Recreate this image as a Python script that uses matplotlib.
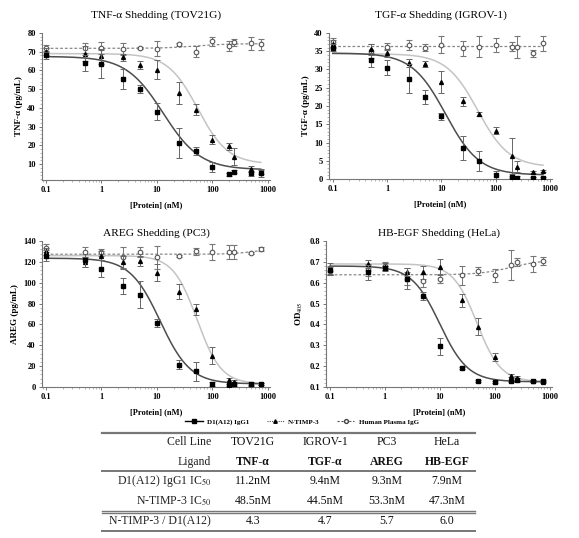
import numpy as np
import matplotlib
matplotlib.use("Agg")
import matplotlib.pyplot as plt
from matplotlib.lines import Line2D
from matplotlib.ticker import AutoMinorLocator, FixedLocator, FuncFormatter, LogLocator, NullFormatter

plt.rcParams['font.family'] = ['Liberation Serif', 'DejaVu Serif']
plt.rcParams['mathtext.fontset'] = 'stix'

# ---------------- data ----------------
conc = [0.1, 0.5, 1, 2.5, 5, 10, 25, 50, 100, 200, 250, 500, 750]

titles = ["TNF-α Shedding (TOV21G)", "TGF-α Shedding (IGROV-1)",
          "AREG Shedding (PC3)", "HB-EGF Shedding (HeLa)"]
ylabels = ["TNF-α (pg/mL)", "TGF-α (pg/mL)", "AREG (pg/mL)", "OD$_{405}$"]

# D1(A12) IgG1 (filled squares)
d1_tnf = [68, 64, 63.5, 55.5, 50, 38, 21.5, 17, 8.5, 4.5, 6, 5, 5]
d1_tnf_err = [2, 4.5, 7.5, 5.5, 2, 4.5, 8, 2, 2.5, 1, 1, 1.5, 2]
d1_tgf = [36, 32.6, 30.5, 27.5, 22.5, 17.2, 8.4, 5, 1.1, 0.5, 0.4, 0.3, 0.2]
d1_tgf_err = [1, 2, 2, 4, 2, 1, 3.3, 2.7, 1.2, 0.3, 0.3, 0.3, 0.3]
d1_areg = [126, 121.5, 113.5, 97, 88.5, 61.5, 21.5, 15, 3, 2, 2.5, 2.5, 2.5]
d1_areg_err = [5, 6, 8, 8, 13, 4, 4, 9, 2, 1, 2, 2, 1]
d1_hb = [0.66, 0.65, 0.67, 0.62, 0.535, 0.295, 0.19, 0.13, 0.125, 0.13, 0.135, 0.13, 0.128]
d1_hb_err = [0.02, 0.035, 0.01, 0.05, 0.02, 0.04, 0.005, 0.005, 0.005, 0.005, 0.01, 0.005, 0.005]

# N-TIMP-3 (filled triangles)
nt_tnf = [70, 69, 67.5, 67, 63, 60.5, 48, 39, 23, 19.5, 14, 7.5, 6]
nt_tnf_err = [2, 4, 4, 2, 2, 5, 6, 3, 2.5, 2, 4.5, 1.5, 1.5]
nt_tgf = [37, 35.5, 34.5, 31.8, 31.5, 26.5, 21.3, 17.8, 13.2, 6.3, 3.4, 2, 2.1]
nt_tgf_err = [1, 1.5, 1, 1, 0.8, 3, 1.2, 0.6, 1, 5, 1.5, 0.3, 0.3]
nt_areg = [130, 120, 126, 119.5, 121, 109.5, 91.5, 74.5, 30, 7, 5, 3, 3]
nt_areg_err = [3, 5, 4, 6, 5, 8, 7, 5, 8, 2, 2, 1, 1]
nt_hb = [0.665, 0.69, 0.675, 0.65, 0.65, 0.675, 0.515, 0.39, 0.245, 0.155, 0.145, 0.13, 0.125]
nt_hb_err = [0.03, 0.02, 0.02, 0.02, 0.03, 0.04, 0.03, 0.04, 0.02, 0.005, 0.01, 0.005, 0.005]

# Human plasma IgG (open circles)
ig_tnf = [72, 72, 72, 71.5, 72, 71.5, 74, 70, 75.5, 73, 75, 74.5, 74]
ig_tnf_err = [1.5, 2.5, 3, 3, 0.5, 4, 0.8, 3, 2.5, 2.5, 2, 3.5, 3]
ig_tgf = [37.4, 35.1, 36.3, 36.7, 36, 36.8, 35.8, 36.3, 36.7, 36.3, 36.2, 34.4, 37.2]
ig_tgf_err = [1.2, 2, 1, 1.3, 1, 2.3, 2, 3, 2, 1.3, 3, 1, 2]
ig_areg = [133, 129.5, 129, 124.5, 129.5, 124.5, 126, 130, 129.5, 129.5, 129.5, 128.5, 132.5]
ig_areg_err = [4, 5, 3, 10, 5, 11, 1, 3, 8, 7, 7, 1, 2]
ig_hb = [0.655, 0.66, 0.68, 0.62, 0.61, 0.62, 0.635, 0.655, 0.635, 0.685, 0.70, 0.69, 0.705]
ig_hb_err = [0.02, 0.03, 0.02, 0.03, 0.03, 0.02, 0.045, 0.02, 0.03, 0.07, 0.02, 0.04, 0.02]

# fitted 4-parameter logistic curves: [start, end, midpoint, hill]
fit_d1 = [[67.5, 7, 13, 1.3], [34.5, 1.1, 12, 1.4], [123.5, 3, 11.5, 1.6], [0.68, 0.125, 10, 1.7]]
fit_nt = [[69, 10, 55, 1.6], [34.3, 3.3, 47, 1.5], [126, 3, 53.3, 2.0], [0.69, 0.125, 47.3, 2.0]]
fit_ig = [[71.8, 74.3, 50, 1.5], [36.4, 36.4, 50, 1.0], [127.3, 133, 600, 2.0], [0.638, 0.71, 200, 1.5]]

ylims = [(1.5, 80), (0, 40), (0, 140), (0.1, 0.8)]
yticks = [[10, 20, 30, 40, 50, 60, 70, 80], [0, 5, 10, 15, 20, 25, 30, 35, 40],
          [0, 20, 40, 60, 80, 100, 120, 140], [0.1, 0.2, 0.3, 0.4, 0.5, 0.6, 0.7, 0.8]]
xticks = [0.1, 1, 10, 100, 1000]

d1_all = [(d1_tnf, d1_tnf_err), (d1_tgf, d1_tgf_err), (d1_areg, d1_areg_err), (d1_hb, d1_hb_err)]
nt_all = [(nt_tnf, nt_tnf_err), (nt_tgf, nt_tgf_err), (nt_areg, nt_areg_err), (nt_hb, nt_hb_err)]
ig_all = [(ig_tnf, ig_tnf_err), (ig_tgf, ig_tgf_err), (ig_areg, ig_areg_err), (ig_hb, ig_hb_err)]

# table
tbl_cols = ["TOV21G", "IGROV-1", "PC3", "HeLa"]
tbl_ligands = ["TNF-α", "TGF-α", "AREG", "HB-EGF"]
ic50_d1 = ["11.2nM", "9.4nM", "9.3nM", "7.9nM"]
ic50_nt = ["48.5nM", "44.5nM", "53.3nM", "47.3nM"]
ratio = ["4.3", "4.7", "5.7", "6.0"]
row_labels = ["Cell Line", "Ligand", "D1(A12) IgG1 IC$_{50}$", "N-TIMP-3 IC$_{50}$", "N-TIMP-3 / D1(A12)"]


def logistic(x, p):
    a, b, c, h = p
    return b + (a - b) / (1 + (x / c) ** h)


W, H = 579, 538
fig = plt.figure(figsize=(W / 100, H / 100), dpi=100)


def px_axes(l, t, r, b):
    return fig.add_axes([l / W, 1 - b / H, (r - l) / W, (b - t) / H])


boxes = [(42, 33, 270, 180), (329, 33, 552, 179), (42, 241, 270, 387), (326, 241, 552, 387)]
title_pads = [11, 11, 4, 4]
xs = np.logspace(-1, np.log10(750), 300)
fmt_x = FuncFormatter(lambda v, p: ("%g" % v))

for i, box in enumerate(boxes):
    ax = px_axes(*box)
    ax.set_xscale('log')
    ax.set_xlim(0.085, 1100)
    ax.set_ylim(*ylims[i])
    # fits
    ax.plot(xs, logistic(xs, fit_ig[i]), ls=(0, (2.2, 1.6)), color='#888888', lw=0.9, zorder=1)
    ax.plot(xs, logistic(xs, fit_nt[i]), color='#c4c4c4', lw=1.1, zorder=1)
    ax.plot(xs, logistic(xs, fit_d1[i]), color='#4d4d4d', lw=1.1, zorder=1)
    # data
    y, e = ig_all[i]
    ax.errorbar(conc, y, yerr=e, fmt='o', ms=3.3, mfc='white', mec='#555555', mew=0.8,
                ecolor='#777777', elinewidth=0.7, capsize=2, capthick=0.7, zorder=3)
    y, e = nt_all[i]
    ax.errorbar(conc, y, yerr=e, fmt='^', ms=2.8, mfc='black', mec='black',
                ecolor='#666666', elinewidth=0.7, capsize=2, capthick=0.7, zorder=4)
    y, e = d1_all[i]
    ax.errorbar(conc, y, yerr=e, fmt='s', ms=3.2, mfc='black', mec='black',
                ecolor='#666666', elinewidth=0.7, capsize=2, capthick=0.7, zorder=5)

    ax.set_title(titles[i], fontsize=8.2, pad=title_pads[i])
    ax.set_ylabel(ylabels[i], fontsize=6.5, fontweight='bold', labelpad=3)
    ax.set_xlabel("[Protein] (nM)", fontsize=6, fontweight='bold', labelpad=5)
    ax.xaxis.set_major_locator(FixedLocator(xticks))
    ax.xaxis.set_major_formatter(fmt_x)
    ax.xaxis.set_minor_locator(LogLocator(base=10, subs=np.arange(2, 10)))
    ax.xaxis.set_minor_formatter(NullFormatter())
    ax.yaxis.set_major_locator(FixedLocator(yticks[i]))
    ax.yaxis.set_minor_locator(AutoMinorLocator(5))
    for lab in ax.get_xticklabels() + ax.get_yticklabels():
        lab.set_fontweight('bold')
        lab.set_fontsize(6)
    ax.spines['top'].set_visible(False)
    ax.spines['right'].set_visible(False)
    for s in ('left', 'bottom'):
        ax.spines[s].set_color('#777777')
        ax.spines[s].set_linewidth(0.8)
    ax.tick_params(which='major', length=2.5, width=0.7, color='#777777', pad=2)
    ax.tick_params(which='minor', length=1.3, width=0.5, color='#999999')

# legend
handles = [
    Line2D([], [], color='black', lw=1, marker='s', ms=2.5, mfc='black'),
    Line2D([], [], color='#555555', lw=0.8, ls=(0, (1, 1)), marker='^', ms=2.5, mfc='black', mec='black'),
    Line2D([], [], color='#555555', lw=0.8, ls=(0, (2, 1.5)), marker='o', ms=2.8, mfc='white', mec='#444444'),
]
fig.legend(handles, ["D1(A12) IgG1", "N-TIMP-3", "Human Plasma IgG"],
           loc='center', bbox_to_anchor=(302 / W, 1 - 422 / H), ncol=3, frameon=False,
           prop={'family': 'Liberation Serif', 'weight': 'bold', 'size': 5},
           handlelength=2.5, columnspacing=2.5, handletextpad=0.6)

# table
tax = fig.add_axes([0, 0, 1, 1])
tax.set_xlim(0, W)
tax.set_ylim(H, 0)
tax.axis('off')
row_y = [442, 462, 481, 501, 521]
col_x = [253, 325, 387, 447]
label_x = 211
fs = 8.5
for r, lab in enumerate(row_labels):
    tax.text(label_x, row_y[r], lab, ha='right', va='center', fontsize=fs, color='#222222')
rows = [tbl_cols, tbl_ligands, ic50_d1, ic50_nt, ratio]
for r, vals in enumerate(rows):
    for c, v in enumerate(vals):
        tax.text(col_x[c], row_y[r], v, ha='center', va='center', fontsize=fs,
                 fontweight='bold' if r == 1 else 'normal', color='#111111')
lc = '#777777'
tax.plot([102, 475], [433, 433], color=lc, lw=1.6)
tax.plot([102, 475], [471, 471], color=lc, lw=1.4)
tax.plot([102, 475], [510.8, 510.8], color=lc, lw=1.0)
tax.plot([102, 475], [513.2, 513.2], color=lc, lw=1.0)
tax.plot([102, 475], [531, 531], color=lc, lw=1.4)

fig.savefig("out.png", dpi=100)
